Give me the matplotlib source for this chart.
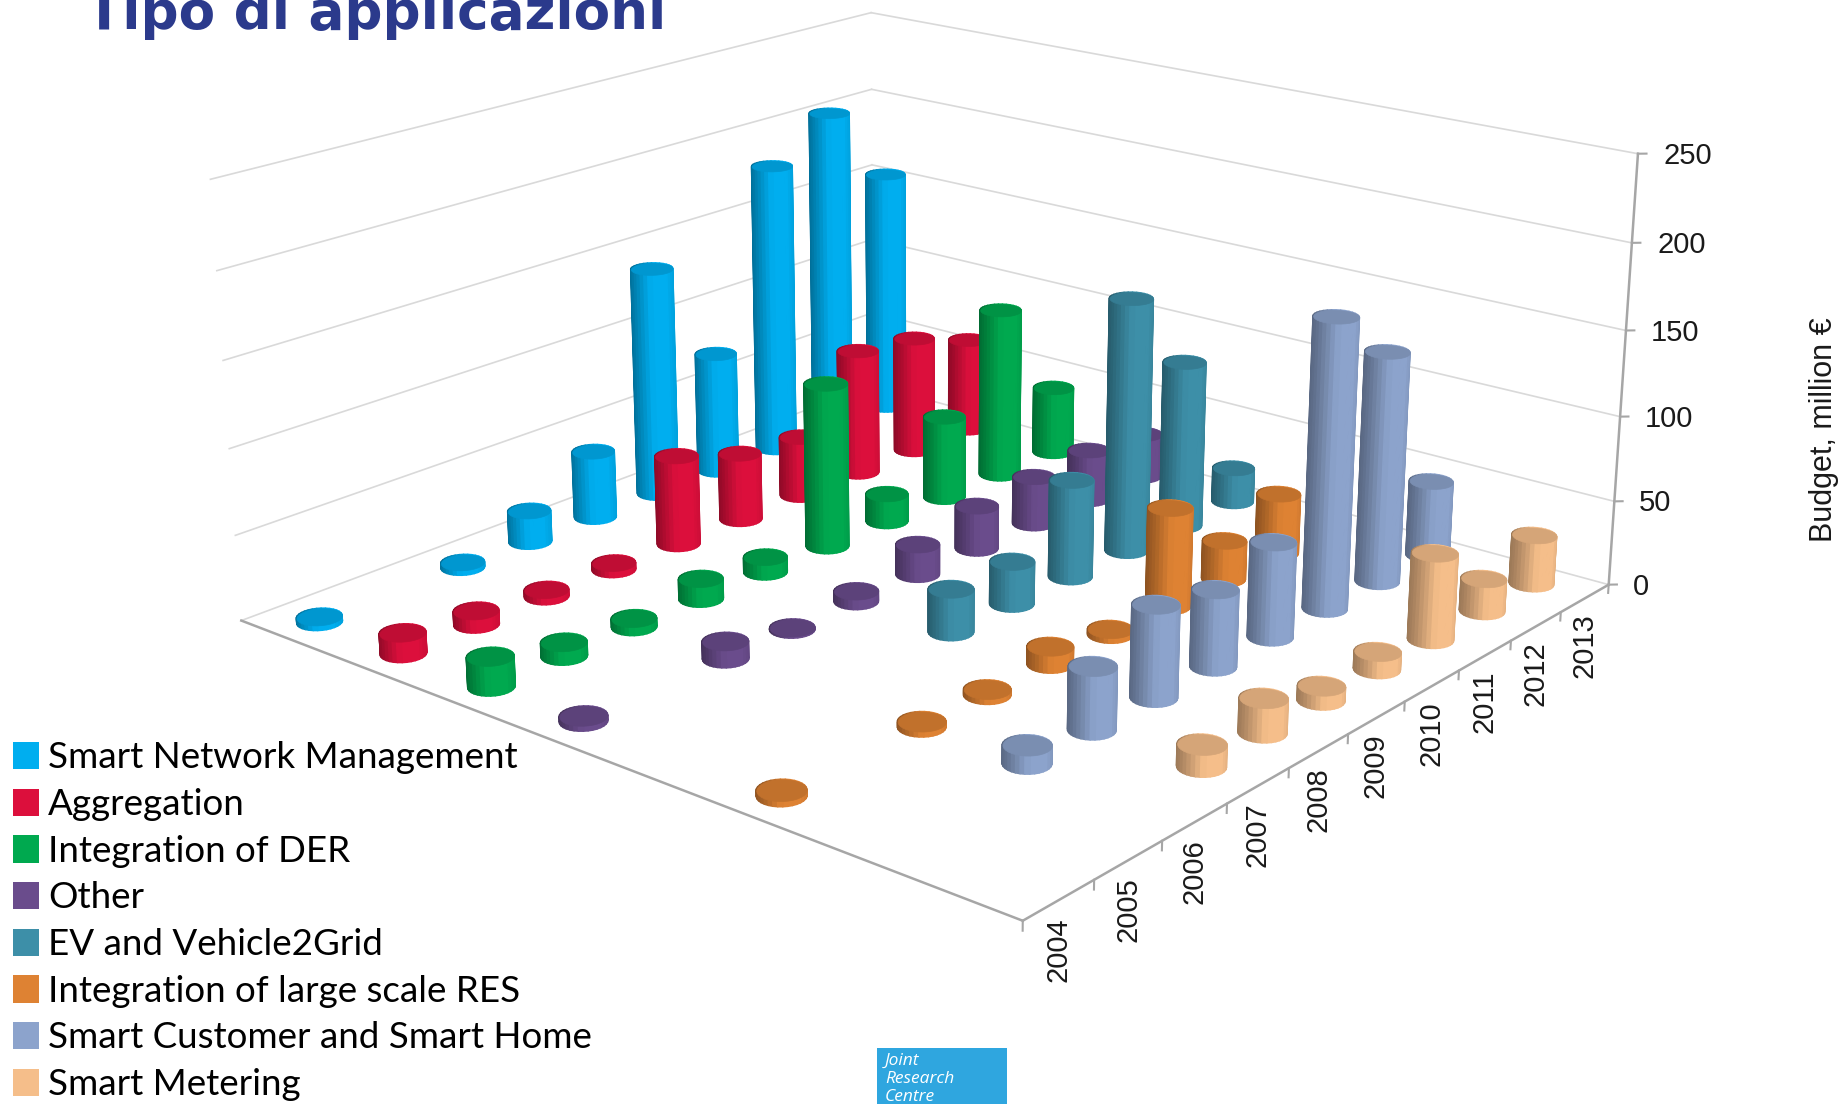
import numpy as np
import matplotlib
matplotlib.use('Agg')
import matplotlib.pyplot as plt
from matplotlib.patches import Patch, Rectangle
from mpl_toolkits.mplot3d import proj3d
from mpl_toolkits.mplot3d.art3d import Poly3DCollection

W, H = 1847, 1104

years = ['2004', '2005', '2006', '2007', '2008', '2009', '2010', '2011', '2012', '2013']
z_ticks = [0, 50, 100, 150, 200, 250]

# back row first, same order as the legend
series_names = ['Smart Network Management', 'Aggregation', 'Integration of DER', 'Other',
                'EV and Vehicle2Grid', 'Integration of large scale RES',
                'Smart Customer and Smart Home', 'Smart Metering']
series_colors = ['#00AEEF', '#DC0F3C', '#00A94F', '#6A4C8C', '#3D8FA8', '#DE8233', '#8CA3CC', '#F5BE8A']

smart_network = [3, 0, 3, 19, 41, 141, 75, 182, 205, 155]
aggregation = [12, 8, 4, 4, 54, 41, 37, 78, 73, 59]
integration_der = [17, 8, 5, 12, 9, 99, 17, 51, 105, 42]
other = [3, 0, 10, 1, 6, 18, 26, 29, 31, 27]
ev_v2g = [0, 0, 0, 0, 25, 25, 58, 152, 101, 21]
large_res = [3, 0, 3, 3, 10, 3, 58, 23, 36, 10]
customer_home = [0, 0, 10, 35, 52, 44, 55, 169, 136, 45]
metering = [0, 0, 0, 12, 19, 8, 10, 50, 19, 29]
budget = [smart_network, aggregation, integration_der, other, ev_v2g, large_res, customer_home, metering]


def fx(px):
    return px / W


def fy(py):
    return 1 - py / H


def shaded(col, t):
    # dark on the left of the cylinder, full colour past the middle, a bit dim at the right edge
    s = np.cos(t - np.radians(azim - 270))
    f = 0.64 + 0.38 * min(1, (s + 1) / 1.1)
    f = min(f, 1.0) - 0.07 * max(0, s - 0.7) / 0.3
    return tuple(np.array(matplotlib.colors.to_rgb(col)) * f)


def cylinder(ax, x, y, h, col, z):
    ts = np.linspace(0, 2 * np.pi, 33)
    quads, cols = [], []
    for a, b in zip(ts[:-1], ts[1:]):
        quads.append([(x + rx * np.cos(a), y + ry * np.sin(a), 0),
                      (x + rx * np.cos(b), y + ry * np.sin(b), 0),
                      (x + rx * np.cos(b), y + ry * np.sin(b), h),
                      (x + rx * np.cos(a), y + ry * np.sin(a), h)])
        cols.append(shaded(col, (a + b) / 2))
    side = Poly3DCollection(quads, facecolors=cols, edgecolors=cols, linewidths=1.2, zorder=z)
    side.set_snap(False)
    ax.add_collection3d(side)
    cap_col = tuple(np.array(matplotlib.colors.to_rgb(col)) * 0.87)
    cap = Poly3DCollection([[(x + rx * np.cos(t), y + ry * np.sin(t), h) for t in ts]],
                           facecolors=[cap_col], edgecolors=[cap_col], linewidths=0.5, zorder=z + 0.5)
    ax.add_collection3d(cap)


def label3d(ax, x, y, z, s, size=21, **kw):
    # 3d text ignores rotation, so project the anchor and place it in 2d
    px, py, _ = proj3d.proj_transform(x, y, z, ax.get_proj())
    ax.text2D(px, py, s, transform=ax.transData, family='Liberation Sans', fontsize=size, color='#1a1a1a', **kw)


elev, azim = 18.67, 220
rx, ry = 0.233, 0.18

fig = plt.figure(figsize=(W / 100, H / 100), dpi=100, facecolor='white')
# square axes, the 2d limits of a 3d axes are a bit off centre
ax = fig.add_axes([(909 - W / 2) / W, (690 - W / 2) / H, 1, W / H], projection='3d', computed_zorder=False)
ax.set_axis_off()
ax.patch.set_alpha(0)
ax.set_xlim(0, 10)
ax.set_ylim(0, 8)
ax.set_zlim(0, 250)
ax.set_box_aspect((0.733, 0.760, 0.347), zoom=0.7745)
ax.view_init(elev=elev, azim=azim)
ax.set_proj_type('persp', focal_length=0.343)

# walls
n_years, n_series = len(years), len(series_names)
for v in z_ticks:
    ax.plot([0, n_years], [n_series, n_series], [v, v], color='#d9d9d9', lw=1.2, zorder=0)
    ax.plot([n_years, n_years], [n_series, 0], [v, v], color='#d9d9d9', lw=1.2, zorder=0)

# floor edges and ticks
ax.plot([0, 0], [n_series, 0], [0, 0], color='#a6a6a6', lw=1.8, zorder=1)
ax.plot([0, n_years], [0, 0], [0, 0], color='#a6a6a6', lw=1.8, zorder=1)
ax.plot([n_years, n_years], [0, 0], [0, 250], color='#a6a6a6', lw=1.8, zorder=1)
for i in range(n_years + 1):
    ax.plot([i, i], [0, 0], [0, -5], color='#a6a6a6', lw=1.5, zorder=1)
for i, y in enumerate(years):
    label3d(ax, i + 0.5, 0, -9, y, rotation=90, ha='center', va='top')
for v in z_ticks:
    ax.plot([n_years, n_years + 0.06], [0, -0.05], [v, v], color='#a6a6a6', lw=1.5, zorder=1)
    label3d(ax, n_years + 0.18, -0.15, v - 1.5, str(v), ha='left', va='center')

# cylinders, far ones first
order = 2
for s in range(n_series):
    for i in range(n_years - 1, -1, -1):
        v = budget[s][i]
        if v > 0:
            cylinder(ax, i + 0.5, n_series - s - 0.5, v, series_colors[s], order)
        order += 1

fig.text(fx(1824), fy(430), 'Budget, million €', rotation=90, ha='center', va='center',
         fontsize=22, family='Liberation Sans', color='#1a1a1a')

# title is cut by the top of the slide
fig.text(fx(86), fy(29), 'Tipo di applicazioni', ha='left', va='baseline', fontsize=38.3,
         fontweight='bold', family='DejaVu Sans', color='#2B3A8C')

handles = [Patch(facecolor=c, edgecolor='none') for c in series_colors]
fig.legend(handles, series_names, loc='upper left', bbox_to_anchor=(fx(13), fy(741.5)), frameon=False,
           prop={'family': 'Lato', 'size': 26.5}, labelspacing=0.371, handlelength=0.7, handleheight=0.76,
           handletextpad=0.245, borderpad=0, borderaxespad=0)

# JRC logo box
fig.patches.append(Rectangle((fx(877), fy(H)), fx(1007) - fx(877), fy(1048) - fy(H), transform=fig.transFigure,
                             facecolor='#2FA6DF', edgecolor='none'))
fig.text(fx(885), fy(1053), 'Joint\nResearch\nCentre', ha='left', va='top', fontsize=12.5, style='italic',
         family='Open Sans', color='white', linespacing=1.15)

plt.savefig('out.png', dpi=100)
